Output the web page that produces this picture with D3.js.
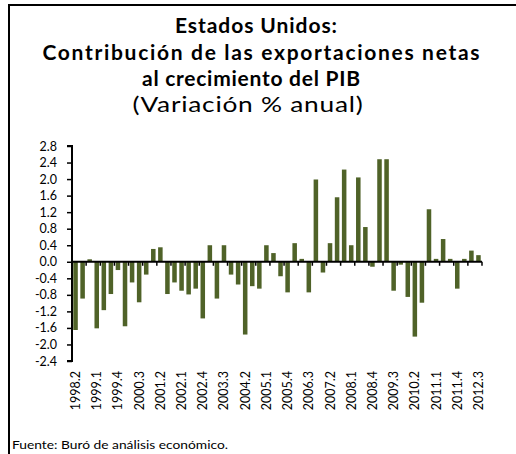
<!DOCTYPE html>
<html>
<head>
<meta charset="utf-8">
<script src="https://cdn.jsdelivr.net/npm/d3@7"></script>
<style>
  html,body{margin:0;padding:0;background:#fff;}
  svg{display:block;}
  text{font-family:Lato,'Open Sans',sans-serif;fill:#000;}
</style>
</head>
<body>
<svg id="chart" width="516" height="454"></svg>
<script>
/* data: quarterly contribution of net exports to GDP growth, US */
var quarters=[
  '1998.2','1998.3','1998.4',
  '1999.1','1999.2','1999.3','1999.4',
  '2000.1','2000.2','2000.3','2000.4',
  '2001.1','2001.2','2001.3','2001.4',
  '2002.1','2002.2','2002.3','2002.4',
  '2003.1','2003.2','2003.3','2003.4',
  '2004.1','2004.2','2004.3','2004.4',
  '2005.1','2005.2','2005.3','2005.4',
  '2006.1','2006.2','2006.3','2006.4',
  '2007.1','2007.2','2007.3','2007.4',
  '2008.1','2008.2','2008.3','2008.4',
  '2009.1','2009.2','2009.3','2009.4',
  '2010.1','2010.2','2010.3','2010.4',
  '2011.1','2011.2','2011.3','2011.4',
  '2012.1','2012.2','2012.3'
];
var values=[
  -1.65,-0.89,0.06,
  -1.61,-1.17,-0.78,-0.20,
  -1.56,-0.50,-0.98,-0.31,
  0.31,0.35,-0.78,-0.50,
  -0.70,-0.79,-0.65,-1.37,
  0.40,-0.89,0.40,-0.31,
  -0.55,-1.76,-0.59,-0.65,
  0.40,0.21,-0.35,-0.74,
  0.45,0.07,-0.74,1.99,
  -0.26,0.45,1.56,2.23,
  0.40,2.04,0.84,-0.12,
  2.48,2.48,-0.70,-0.07,
  -0.85,-1.81,-0.99,1.27,
  0.07,0.55,0.07,-0.65,
  0.07,0.27,0.16
];
var yTicks=[-2.4,-2.0,-1.6,-1.2,-0.8,-0.4,0,0.4,0.8,1.2,1.6,2.0,2.4,2.8];
var titleLines=['Estados Unidos:','Contribución de las exportaciones netas','al crecimiento del PIB'];
var subtitle='(Variación % anual)';
var source='Fuente: Buró de análisis económico.';

var svg=d3.select('#chart');
var x0=72, x1=482, yTop=146, yBot=361;

// frame
svg.append('rect').attr('x',9).attr('y',5).attr('width',520).attr('height',470)
  .attr('fill','none').attr('stroke','#000').attr('stroke-width',2);

// titles (widths matched to the original letter-spaced setting)
var tY=[33,60,86], tX=[256,261,251], tW=[162,437,218];
titleLines.forEach(function(t,i){
  svg.append('text').attr('x',tX[i]).attr('y',tY[i]).attr('text-anchor','middle')
    .attr('font-size','21px').attr('font-weight','700')
    .attr('textLength',tW[i]).attr('lengthAdjust','spacing').text(t);
});
svg.append('text').attr('x',248).attr('y',112).attr('text-anchor','middle')
  .attr('font-size','21px').style('letter-spacing','0.6px')
  .attr('textLength',231).attr('lengthAdjust','spacingAndGlyphs').text(subtitle);

var x=d3.scaleBand().domain(quarters).range([x0,x1]).paddingInner(0.36).paddingOuter(0.18);
var xi=d3.scaleLinear().domain([0,quarters.length]).range([x0,x1]);
var y=d3.scaleLinear().domain([-2.4,2.8]).range([yBot,yTop]);

// y axis
var yAxis=d3.axisLeft(y).tickValues(yTicks).tickSize(5).tickPadding(10)
  .tickFormat(function(v){return v.toFixed(1);});
var gy=svg.append('g').attr('transform','translate('+x0+',0)').call(yAxis);
gy.select('.domain').attr('stroke','#000').attr('stroke-width',2).attr('d','M-5,'+yTop+'H0V'+yBot+'H-5');
gy.selectAll('.tick line').attr('stroke','#000').attr('stroke-width',1.5);
gy.selectAll('.tick text').attr('font-size','12.5px').attr('fill','#000');

// bars
svg.append('g').selectAll('rect').data(values).join('rect')
  .attr('x',function(d,i){return x(quarters[i]);})
  .attr('width',x.bandwidth())
  .attr('y',function(d){return y(Math.max(0,d));})
  .attr('height',function(d){return Math.abs(y(d)-y(0));})
  .attr('fill','#4f6228');

// zero line + ticks every two quarters
var y0=y(0);
svg.append('line').attr('x1',x0).attr('x2',x1).attr('y1',y0).attr('y2',y0)
  .attr('stroke','#000').attr('stroke-width',2);
var tickIdx=d3.range(2,quarters.length+1,2);
svg.append('g').selectAll('line').data(tickIdx).join('line')
  .attr('x1',function(k){return xi(k);}).attr('x2',function(k){return xi(k);})
  .attr('y1',y0).attr('y2',y0+4).attr('stroke','#000').attr('stroke-width',1.5);

// category labels, every third quarter, at the bottom
var labelQ=quarters.filter(function(q,i){return i%3===0;});
svg.append('g').selectAll('text').data(labelQ).join('text')
  .attr('transform',function(q){return 'translate('+(x(q)+x.bandwidth()/2)+',371) rotate(-90)';})
  .attr('text-anchor','end').attr('dy','0.36em').attr('font-size','12.5px').text(function(q){return q;});

// source
svg.append('text').attr('x',12).attr('y',449).attr('font-size','12px')
  .attr('textLength',216).attr('lengthAdjust','spacingAndGlyphs').text(source);
</script>
</body>
</html>
